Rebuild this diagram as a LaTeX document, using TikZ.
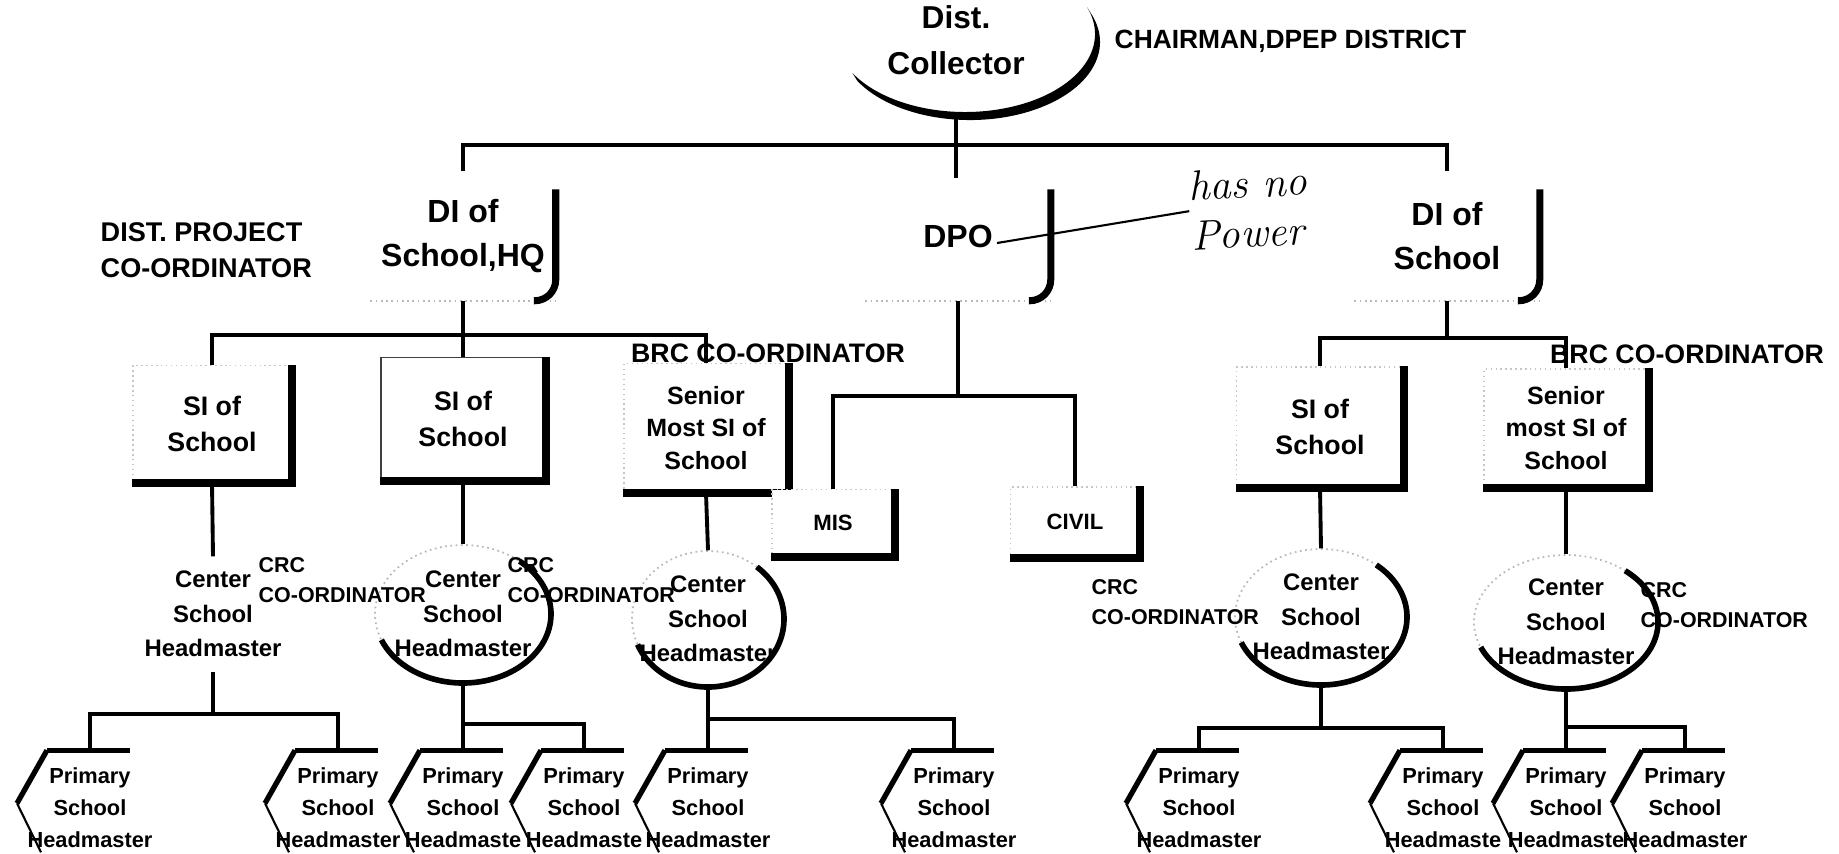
\documentclass[tikz,border=0pt]{standalone}
\usepackage{fontspec}
\setsansfont{Liberation Sans}
\usetikzlibrary{calc}

\begin{document}
\begin{tikzpicture}[
    x=0.01cm, y=-0.01cm,
    txt/.style={inner sep=0pt, align=center},
    dibox/.style={txt, minimum width=1.84cm, minimum height=1.28cm,
        font=\sffamily\bfseries\fontsize{9.1}{12.3}\selectfont},
    sbox/.style={txt, draw=gray!45, densely dotted, fill=white,
        font=\sffamily\bfseries\fontsize{7.6}{10.3}\selectfont},
    cent/.style={txt, minimum width=1.4cm,
        font=\sffamily\bfseries\fontsize{6.8}{9.8}\selectfont},
    crc/.style={inner sep=0pt, align=left, anchor=west,
        font=\sffamily\bfseries\fontsize{6.1}{8.6}\selectfont},
    brc/.style={inner sep=0pt, font=\sffamily\bfseries\fontsize{7.6}{9}\selectfont},
    prim/.style={txt, minimum width=0.84cm, minimum height=1.14cm,
        font=\sffamily\bfseries\fontsize{6.2}{9.1}\selectfont},
    conn/.style={line width=1.1pt},
    shd/.style={line width=2.2pt, line join=miter},
    brk/.style={line width=2pt, rounded corners=6pt},
    faint/.style={gray!55, densely dotted, line width=0.5pt},
    carc/.style={line width=1.6pt},
    pline/.style={line width=1.5pt},
    pen/.style={line width=0.6pt}
]
    \useasboundingbox (0,0) rectangle (1839,853);

    % Top
    \node[txt, minimum height=1.56cm, font=\sffamily\bfseries\fontsize{9}{13}\selectfont]
        (coll) at (956,40) {Dist.\\Collector};
    \node[brc, anchor=west, font=\sffamily\bfseries\fontsize{7.5}{9}\selectfont]
        (chair) at (1114,41) {CHAIRMAN,DPEP DISTRICT};
    \fill ($(coll.center)+(14,2)+(150:130 and 78)$)
        arc[start angle=150, end angle=-20, x radius=130, y radius=78]
        -- ($(coll.center)+(9,-6)+(-20:130 and 78)$)
        arc[start angle=-20, end angle=150, x radius=130, y radius=78] -- cycle;

    % District level
    \node[crc, font=\sffamily\bfseries\fontsize{7.7}{10.3}\selectfont]
        (dpc) at (100,250) {DIST. PROJECT\\CO-ORDINATOR};
    \node[dibox] (dihq) at (463,236) {DI of\\School,HQ};
    \node[dibox] (dpo) at (958,236) {DPO};
    \node[dibox] (dir) at (1447,236) {DI of\\School};
    \foreach \d in {dihq,dpo,dir}{
        \draw[faint] (\d.south west) -- (\d.south east);
        \draw[brk] ($(\d.north east)+(0,18)$) -- (\d.south east) -- ++(-22,0);
    }

    % handwritten remark
    \node[inner sep=0pt, align=left, rotate=3,
        font=\rmfamily\itshape\fontsize{12}{14}\selectfont]
        (note) at (1249,208) {has no\\Power};
    \draw[pen] ($(dpo.center)+(39,7)$) -- (note.west);

    % Block level boxes
    \node[sbox, minimum width=1.58cm, minimum height=1.17cm] (si1) at (212,424) {SI of\\School};
    \node[sbox, draw=black!75, solid, minimum width=1.64cm, minimum height=1.23cm]
        (si2) at (463,419) {SI of\\School};
    \node[sbox, minimum width=1.64cm, minimum height=1.29cm,
        font=\sffamily\bfseries\fontsize{7.1}{9.3}\selectfont]
        (snl) at (706,428) {Senior\\Most SI of\\School};
    \node[sbox, minimum width=1.67cm, minimum height=1.20cm] (sir) at (1320,427) {SI of\\School};
    \node[sbox, minimum width=1.64cm, minimum height=1.18cm,
        font=\sffamily\bfseries\fontsize{7.1}{9.3}\selectfont]
        (snr) at (1566,428) {Senior\\most SI of\\School};
    \draw[shd] (snl.north east) -- (snl.south east) -- (snl.south west);
    \node[sbox, minimum width=1.22cm, minimum height=0.67cm,
        font=\sffamily\bfseries\fontsize{6.3}{8}\selectfont] (mis) at (833,523) {MIS};
    \node[sbox, minimum width=1.29cm, minimum height=0.70cm,
        font=\sffamily\bfseries\fontsize{6.3}{8}\selectfont] (civ) at (1075,522) {CIVIL};
    \foreach \b in {si1,si2,mis,civ,sir,snr}
        \draw[shd] (\b.north east) -- (\b.south east) -- (\b.south west);

    \node[brc] (brl) at (768,353) {BRC CO-ORDINATOR};
    \node[brc] (brr) at (1687,354) {BRC CO-ORDINATOR};

    % Center schools
    \node[cent, minimum height=1.14cm] (c1) at (213,614) {Center\\School\\Headmaster};
    \node[cent, minimum height=1.38cm] (c2) at (463,614) {Center\\School\\Headmaster};
    \node[cent, minimum height=1.36cm] (c3) at (708,619) {Center\\School\\Headmaster};
    \node[cent, minimum height=1.36cm] (c4) at (1321,617) {Center\\School\\Headmaster};
    \node[cent, minimum height=1.34cm] (c5) at (1566,622) {Center\\School\\Headmaster};
    \foreach \c/\rx/\ry in {c2/88/69,c3/76/68,c4/86/68,c5/92/67}{
        \draw[faint] (\c.center) ellipse[x radius=\rx, y radius=\ry];
        \draw[carc] (\c.center) ++(-50:{\rx} and {\ry})
            arc[start angle=-50, end angle=158, x radius=\rx, y radius=\ry];
    }

    \node[crc] (crc1) at (258,580) {CRC\\CO-ORDINATOR};
    \node[crc] (crc2) at (507,580) {CRC\\CO-ORDINATOR};
    \node[crc] (crc3) at (1091,602) {CRC\\CO-ORDINATOR};
    \node[crc] (crc4) at (1640,605) {CRC\\CO-ORDINATOR};

    % Primary schools
    \node[prim] (p1) at (90,808) {Primary\\School\\Headmaster};
    \node[prim] (p2) at (338,808) {Primary\\School\\Headmaster};
    \node[prim] (p3) at (463,808) {Primary\\School\\Headmaste};
    \node[prim] (p4) at (584,808) {Primary\\School\\Headmaste};
    \node[prim] (p5) at (708,808) {Primary\\School\\Headmaster};
    \node[prim] (p6) at (954,808) {Primary\\School\\Headmaster};
    \node[prim] (p7) at (1199,808) {Primary\\School\\Headmaster};
    \node[prim] (p8) at (1443,808) {Primary\\School\\Headmaste};
    \node[prim] (p9) at (1566,808) {Primary\\School\\Headmaste};
    \node[prim] (p10) at (1685,808) {Primary\\School\\Headmaster};
    \foreach \i in {1,...,10}{
        \draw[pline] ($(p\i.north)+(-43,0)$) coordinate (t\i) -- ($(p\i.north)+(40,0)$);
        \draw[pline] (t\i) -- ++(-30,53) coordinate (k\i);
        \draw[pen] (k\i) -- ++(24,49);
    }

    % Connectors
    \coordinate (stub) at (956,178);
    \draw[conn] (coll.south) -- (stub);
    \draw[conn] (dihq.north) -- ++(0,-26) -| (dir.north);

    \draw[conn] (dihq.south) -- (si2.north);
    \draw[conn] (si1.north) |- ($(dihq.south)+(0,34)$) -| (snl.north);
    \draw[conn] (dpo.south) -- ++(0,95) coordinate (dpobar);
    \draw[conn] (mis.north) |- (dpobar) -| (civ.north);
    \draw[conn] (dir.south) -- ++(0,37) coordinate (dirbar);
    \draw[conn] (sir.north) |- (dirbar) -| (snr.north);

    \draw[conn] (si1.south) -- (c1.north);
    \draw[conn] (si2.south) -- (c2.north);
    \draw[conn] (snl.south) -- (c3.north);
    \draw[conn] (sir.south) -- (c4.north);
    \draw[conn] (snr.south) -- (c5.north);

    \draw[conn] (c1.south) -- ++(0,42) coordinate (c1bar);
    \draw[conn] (p1.north) |- (c1bar) -| (p2.north);
    \draw[conn] (c2.south) -- (p3.north);
    \draw[conn] ($(c2.south)!0.6!(p3.north)$) -| (p4.north);
    \draw[conn] (c3.south) -- (p5.north);
    \draw[conn] ($(c3.south)!0.5!(p5.north)$) -| (p6.north);
    \draw[conn] (c4.south) -- ++(0,42) coordinate (c4bar);
    \draw[conn] (p7.north) |- (c4bar) -| (p8.north);
    \draw[conn] (c5.south) -- (p9.north);
    \draw[conn] ($(c5.south)!0.61!(p9.north)$) -| (p10.north);
\end{tikzpicture}
\end{document}
